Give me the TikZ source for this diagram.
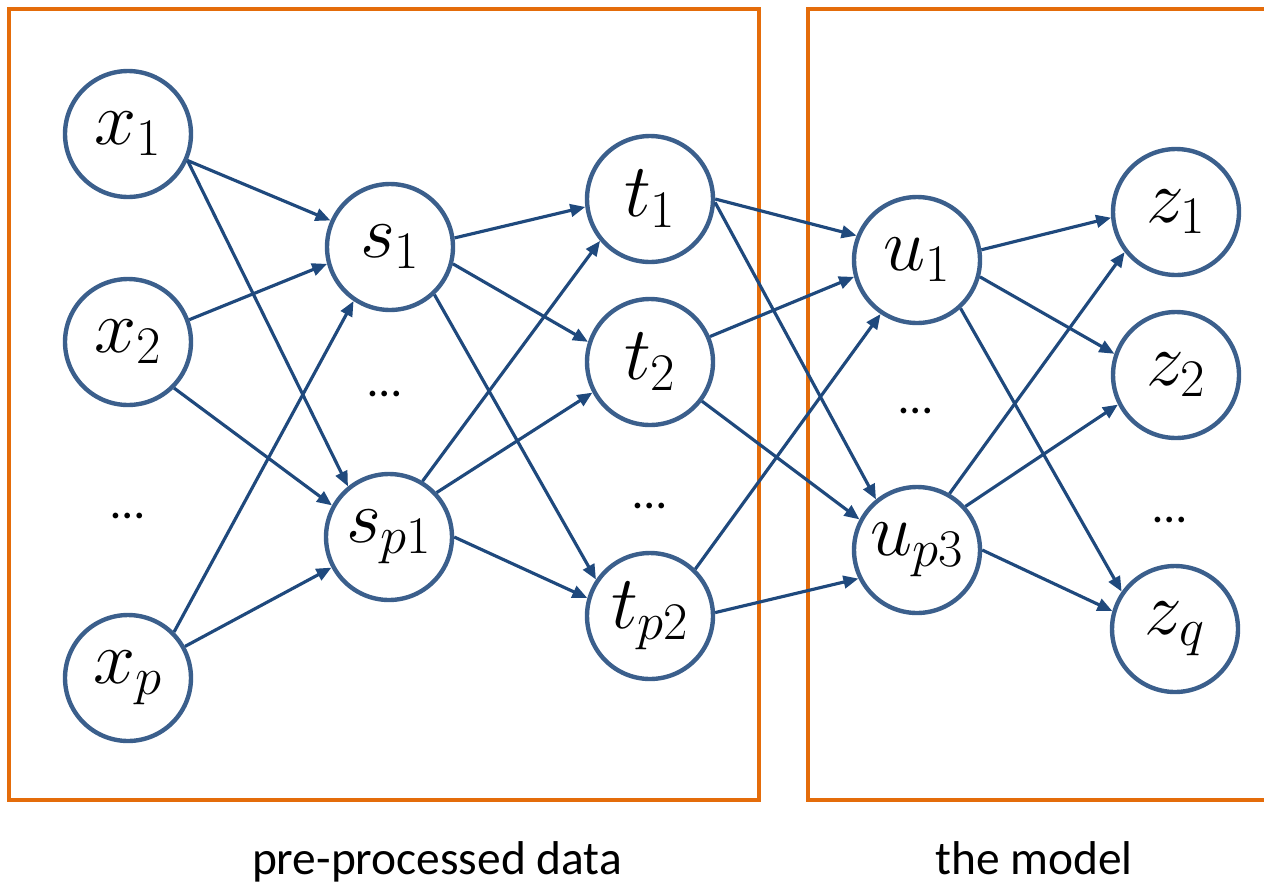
\RequirePackage{fix-cm}
\documentclass[tikz,border=0pt]{standalone}
\usepackage[no-math]{fontspec}
\newfontfamily\captionfont{Carlito}
\usetikzlibrary{arrows.meta}
\definecolor{nodeBlue}{RGB}{59,95,140}
\definecolor{edgeBlue}{RGB}{31,73,125}
\definecolor{boxOrange}{RGB}{228,108,10}

\begin{document}
\begin{tikzpicture}[x=0.02cm, y=-0.02cm,
    neuron/.style={circle, draw=nodeBlue, line width=2.5pt, minimum size=2.52cm, inner sep=0pt, font=\fontsize{43}{46}\selectfont},
    link/.style={edgeBlue, line width=1.8pt, -{Triangle[length=0.3cm, width=0.25cm]}},
    frame/.style={boxOrange, line width=2.8pt},
    vdots/.style={font=\captionfont\fontsize{27}{32}\selectfont},
    caption/.style={font=\captionfont\fontsize{27}{32}\selectfont, anchor=base}]
    \useasboundingbox (0,0) rectangle (1264,886);
    % the two boxes
    \draw[frame] (9,9) rectangle (759,800);
    \draw[frame] (1270,9) -- (808,9) -- (808,800) -- (1270,800);
    \node[caption] (capdata) at (437,874) {pre-processed data};
    \node[caption] (capmodel) at (1034,874) {the model};
    % layers
    \node[neuron] (x1) at (128,134) {\raisebox{-0.1em}{$x_1$}};
    \node[neuron] (x2) at (128,342) {\raisebox{-0.1em}{$x_2$}};
    \node[neuron] (xp) at (128,678) {\raisebox{-0.1em}{$x_p$}};
    \node[vdots] (dx) at (128,516) {…};
    \node[neuron] (s1) at (390,247) {\raisebox{-0.1em}{$s_1$}};
    \node[neuron] (sp1) at (389,537) {\raisebox{-0.1em}{$s_{p1}$}};
    \node[vdots] (ds) at (385,394) {…};
    \node[neuron] (t1) at (650,199) {\raisebox{-0.1em}{$t_1$}};
    \node[neuron] (t2) at (650,362) {\raisebox{-0.1em}{$t_2$}};
    \node[neuron] (tp2) at (650,616) {\raisebox{-0.1em}{$t_{p2}$}};
    \node[vdots] (dt) at (650,506) {…};
    \node[neuron] (u1) at (917,260) {\raisebox{-0.1em}{$u_1$}};
    \node[neuron] (up3) at (917,550) {\raisebox{-0.1em}{$u_{p3}$}};
    \node[vdots] (du) at (916,411) {…};
    \node[neuron] (z1) at (1176,212) {\raisebox{-0.1em}{$z_1$}};
    \node[neuron] (z2) at (1176,375) {\raisebox{-0.1em}{$z_2$}};
    \node[neuron] (zq) at (1175,629) {\raisebox{-0.1em}{$z_q$}};
    \node[vdots] (dz) at (1170,520) {…};
    % connections, each from/anchor/to/anchor
    \foreach \a/\i/\b/\j in {x1/-24/s1/156, x1/-24/sp1/129, x2/20/s1/195, x2/-45/sp1/151, xp/45/s1/236, xp/29/sp1/208,
        s1/8/t1/187, s1/-15/t2/162, s1/-47/tp2/146, sp1/59/t1/220, sp1/43/t2/208, sp1/0/tp2/164,
        t1/0/u1/158, t1/-3/up3/129, t2/23/u1/195, t2/-37/up3/152, tp2/46/u1/236, tp2/3/up3/206,
        u1/9/z1/185, u1/-15/z2/161, u1/-48/zq/145, up3/60/z1/218, up3/42/z2/207, up3/0/zq/164}
      \draw[link] (\a.\i) -- (\b.\j);
\end{tikzpicture}
\end{document}
